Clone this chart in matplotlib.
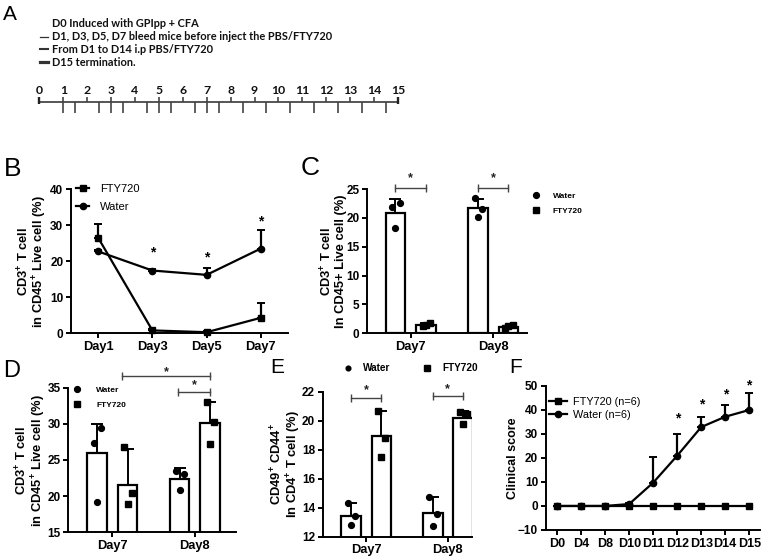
import numpy as np
import matplotlib.pyplot as plt
from matplotlib.lines import Line2D

plt.rcParams['font.family'] = 'Liberation Sans'
plt.rcParams['font.weight'] = 'bold'
plt.rcParams['axes.labelweight'] = 'bold'
plt.rcParams['mathtext.fontset'] = 'custom'
plt.rcParams['mathtext.rm'] = 'Liberation Sans:bold'
plt.rcParams['mathtext.default'] = 'rm'
plt.rcParams['axes.linewidth'] = 1.4
plt.rcParams['xtick.major.width'] = 1.4
plt.rcParams['ytick.major.width'] = 1.4
plt.rcParams['xtick.major.size'] = 3.5
plt.rcParams['ytick.major.size'] = 3.5
plt.rcParams['xtick.labelsize'] = 9.3
plt.rcParams['ytick.labelsize'] = 8.5

#------------------------------- DATA -----------------------------
# A: protocol timeline
protocol_lines = ["D0 Induced with GPIpp + CFA",
                  "D1, D3, D5, D7 bleed mice before inject the PBS/FTY720",
                  "From D1 to D14 i.p PBS/FTY720",
                  "D15 termination."]
timeline_days = [0, 1, 2, 3, 4, 5, 6, 7, 8, 9, 10, 11, 12, 13, 14, 15]
event_ticks = [1, 1.5, 2.5, 3, 3.5, 4.5, 5, 5.5, 6.5, 7, 7.5, 8.5, 9.5,
               10.5, 11.5, 12.5, 13.5, 14.5]

# B: CD3+ T cells over time
b_days = ["Day1", "Day3", "Day5", "Day7"]
b_fty = [26.5, 0.8, 0.3, 4.3]
b_fty_err = [3.7, 0.3, 0.3, 4.2]
b_water = [22.7, 17.4, 16.2, 23.5]
b_water_err = [0.3, 0.3, 1.8, 5.0]
b_star_idx = [1, 2, 3]
b_star_y = [22.3, 21.1, 30.9]

# C: CD3+ T cells (bars)
cd_days = ["Day7", "Day8"]
c_water = [20.9, 21.7]
c_water_err = [2.3, 1.6]
c_water_pts = [[21.9, 22.6, 18.2], [23.4, 21.5, 20.2]]
c_fty = [1.5, 1.05]
c_fty_err = [0.3, 0.25]
c_fty_pts = [[1.27, 1.85, 1.44], [0.87, 1.39, 1.33]]

# D: CD3+ T cells (bars, zoomed axis)
d_water = [26.0, 22.4]
d_water_err = [4.0, 1.45]
d_water_pts = [[27.4, 29.4, 19.2], [23.5, 23.0, 20.85]]
d_fty = [21.6, 30.1]
d_fty_err = [4.9, 2.9]
d_fty_pts = [[26.8, 20.4, 18.9], [33.0, 30.3, 27.2]]

# E: CD49+ CD44+ in CD4+ T cells
e_water = [13.45, 13.65]
e_water_err = [0.85, 1.1]
e_water_pts = [[14.3, 13.4, 12.8], [14.75, 13.55, 12.75]]
e_fty = [18.97, 20.2]
e_fty_err = [1.7, 0.45]
e_fty_pts = [[20.7, 18.8, 17.5], [20.6, 20.45, 19.8]]

# F: clinical score
f_days = ["D0", "D4", "D8", "D10", "D11", "D12", "D13", "D14", "D15"]
f_fty = [0, 0, 0, 0, 0, 0, 0, 0, 0]
f_water = [0, 0, 0, 0.8, 9.7, 20.9, 32.8, 37.1, 39.9]
f_water_err = [0, 0, 0, 0.6, 10.8, 9.1, 4.3, 4.9, 6.9]
f_star_idx = [5, 6, 7, 8]
f_star_y = [36.4, 42.4, 46.4, 50.3]

W, H = 764, 556
fig = plt.figure(figsize=(W / 100, H / 100), dpi=100)


def px_axes(l, t, r, b):
    return fig.add_axes([l / W, 1 - b / H, (r - l) / W, (b - t) / H])


def style_axes(ax):
    ax.spines['top'].set_visible(False)
    ax.spines['right'].set_visible(False)
    ax.tick_params(direction='out', pad=2)


def legend_at(ax, handles, labels, x, y, size, **kw):
    return ax.legend(handles, labels, loc='upper left',
                     bbox_to_anchor=(x / W, 1 - y / H),
                     bbox_transform=fig.transFigure, frameon=False,
                     borderaxespad=0, borderpad=0, fontsize=size, **kw)


def bracket(ax, x1, x2, y, star_y):
    ax.plot([x1, x2], [y, y], color='#444444', lw=1.0, marker='|', ms=6,
            mew=1.0, clip_on=False)
    ax.text((x1 + x2) / 2, star_y, '*', ha='center', va='center',
            fontsize=9, color='#222222')


def bar_panel(ax, water, water_err, water_pts, fty, fty_err, fty_pts, off=0.185, width=0.24):
    x = np.arange(len(cd_days))
    jitter = [-0.04, 0.05, 0.0]
    for xs, means, errs, pts, mk in [(x - off, water, water_err, water_pts, 'o'),
                                     (x + off, fty, fty_err, fty_pts, 's')]:
        ax.bar(xs, means, width=width, color='white', edgecolor='black',
               linewidth=1.6, zorder=2)
        ax.errorbar(xs, means, yerr=[np.zeros(len(errs)), errs], fmt='none',
                    ecolor='black', elinewidth=1.4, capsize=4, capthick=1.4,
                    zorder=3, clip_on=False)
        for xi, p in zip(xs, pts):
            ax.plot(xi + np.array(jitter), p, mk, color='black', ms=4.2,
                    zorder=4, clip_on=False)
    ax.set_xticks(x)
    ax.set_xticklabels(cd_days)
    style_axes(ax)


YLAB = dict(fontsize=9.3, linespacing=1.0)

#------------------------------- PANEL A -----------------------------
fig.text(3 / W, 1 - 5 / H, "A", fontsize=15, weight='normal', va='top')
line_y = [23.3, 36.7, 49.3, 62.3]
dash_w = [None, 0.9, 1.5, 2.3]
for txt, yy, lw in zip(protocol_lines, line_y, dash_w):
    fig.text(51.7 / W, 1 - yy / H, txt, family='Lato', fontsize=7.9,
             weight='bold', va='center', color='#111111')
    if lw is not None:
        fig.add_artist(Line2D([40 / W, 48.3 / W], [1 - yy / H, 1 - yy / H],
                              color='#333333', lw=lw))

axa = px_axes(39.3, 80, 398, 118)
axa.set_xlim(0, 15)
axa.set_ylim(-16.3, 21.7)
axa.axis('off')
axa.plot([0, 15], [0, 0], color='#555555', lw=1.4, clip_on=False)
axa.vlines(timeline_days, 0, 5, color='#444444', lw=1.2, clip_on=False)
axa.vlines([0, 15], -2, 5, color='#222222', lw=1.7, clip_on=False)
axa.vlines(event_ticks, -11.3, 0, color='#444444', lw=1.2, clip_on=False)
for d in timeline_days:
    axa.text(d, 11.7, str(d), ha='center', va='center', family='Lato',
             fontsize=8.8, weight='bold', color='#111111')

#------------------------------- PANEL B -----------------------------
fig.text(4 / W, 1 - 157 / H, "B", fontsize=19, weight='normal', va='top')
axb = px_axes(71, 189, 288, 333.3)
xb = np.arange(len(b_days))
axb.errorbar(xb, b_fty, yerr=[np.zeros(4), b_fty_err], color='black',
             marker='s', ms=4.5, lw=1.6, capsize=3, capthick=1.4, clip_on=False)
axb.errorbar(xb, b_water, yerr=[np.zeros(4), b_water_err], color='black',
             marker='o', ms=4.5, lw=1.6, capsize=3, capthick=1.4, clip_on=False)
for i, sy in zip(b_star_idx, b_star_y):
    axb.text(xb[i], sy, '*', ha='center', va='center', fontsize=10)
axb.set_xlim(-0.5, 3.5)
axb.set_ylim(0, 40)
axb.set_yticks([0, 10, 20, 30, 40])
axb.set_xticks(xb)
axb.set_xticklabels(b_days)
style_axes(axb)
axb.set_ylabel("CD3$^{+}$ T cell\nin CD45$^{+}$ Live cell (%)", labelpad=0.5, **YLAB)
hb = [Line2D([], [], color='black', marker='s', ms=4.5, lw=1.6),
      Line2D([], [], color='black', marker='o', ms=4.5, lw=1.6)]
legend_at(axb, hb, ["FTY720", "Water"], 76, 184, 8, handlelength=1.2,
          handletextpad=1.0, labelspacing=0.75,
          prop={'weight': 'normal', 'size': 8})

#------------------------------- PANEL C -----------------------------
fig.text(301 / W, 1 - 156 / H, "C", fontsize=19, weight='normal', va='top')
axc = px_axes(367, 189, 527, 333.3)
bar_panel(axc, c_water, c_water_err, c_water_pts, c_fty, c_fty_err, c_fty_pts)
axc.set_xlim(-0.53, 1.41)
axc.set_ylim(0, 25)
axc.set_yticks([0, 5, 10, 15, 20, 25])
axc.set_ylabel("CD3$^{+}$ T cell\nIn CD45+ Live cell (%)", labelpad=-0.5, **YLAB)
for g in range(2):
    bracket(axc, g - 0.185, g + 0.185, 25.1, 26.8)
hc = [Line2D([], [], ls='none', color='black', marker='o', ms=4.2),
      Line2D([], [], ls='none', color='black', marker='s', ms=4.2)]
legend_at(axc, hc, ["Water", "FTY720"], 532, 192, 6, handlelength=1.0,
          handletextpad=1.5, labelspacing=0.9)

#------------------------------- PANEL D -----------------------------
fig.text(3 / W, 1 - 360 / H, "D", fontsize=17, weight='normal', va='top')
axd = px_axes(68.3, 387.7, 236, 532.3)
bar_panel(axd, d_water, d_water_err, d_water_pts, d_fty, d_fty_err, d_fty_pts)
axd.set_xlim(-0.534, 1.5)
axd.set_ylim(15, 35)
axd.set_yticks([15, 20, 25, 30, 35])
axd.set_ylabel("CD3$^{+}$ T cell\nin CD45$^{+}$ Live cell (%)", labelpad=-0.5, **YLAB)
bracket(axd, 0.114, 1.19, 36.6, 37.1)
bracket(axd, 0.80, 1.19, 34.45, 35.3)
legend_at(axd, hc, ["Water", "FTY720"], 73, 386, 6, handlelength=1.0,
          handletextpad=1.8, labelspacing=0.9)

#------------------------------- PANEL E -----------------------------
fig.text(270 / W, 1 - 358 / H, "E", fontsize=15, weight='normal', va='top')
axe = px_axes(322.7, 391.7, 472.3, 536.7)
bar_panel(axe, e_water, e_water_err, e_water_pts, e_fty, e_fty_err, e_fty_pts)
axe.set_xlim(-0.535, 1.30)
axe.set_ylim(12, 22)
axe.set_yticks([12, 14, 16, 18, 20, 22])
axe.set_ylabel("CD49$^{+}$ CD44$^{+}$\nIn CD4$^{+}$ T cell (%)", labelpad=-0.5, **YLAB)
bracket(axe, -0.185, 0.185, 21.55, 22.1)
bracket(axe, 0.815, 1.185, 21.7, 22.2)
he = [Line2D([], [], ls='none', color='black', marker='o', ms=3.4),
      Line2D([], [], ls='none', color='black', marker='s', ms=4.0)]
legend_at(axe, he, ["Water", "FTY720"], 343, 363, 7.2, ncol=2,
          handlelength=1.0, handletextpad=1.0, columnspacing=3.2)

#------------------------------- PANEL F -----------------------------
fig.text(509 / W, 1 - 358 / H, "F", fontsize=15, weight='normal', va='top')
axf = px_axes(545.7, 385.7, 760, 530)
xf = np.arange(len(f_days))
axf.plot(xf, f_fty, color='black', marker='s', ms=4.5, lw=1.6, clip_on=False)
axf.errorbar(xf, f_water, yerr=[np.zeros(len(xf)), f_water_err], color='black',
             marker='o', ms=4.5, lw=1.6, capsize=3, capthick=1.4, clip_on=False)
for i, sy in zip(f_star_idx, f_star_y):
    axf.text(xf[i], sy, '*', ha='center', va='center', fontsize=10)
axf.set_xlim(-0.48, 8.45)
axf.set_ylim(-10, 50)
axf.set_yticks([-10, 0, 10, 20, 30, 40, 50])
axf.set_xticks(xf)
axf.set_xticklabels(f_days, fontsize=9)
style_axes(axf)
axf.set_ylabel("Clinical score", fontsize=9, labelpad=-1)
legend_at(axf, hb, ["FTY720 (n=6)", "Water (n=6)"], 549, 397, 7.8,
          handlelength=1.7, handletextpad=0.5, labelspacing=0.25,
          prop={'weight': 'normal', 'size': 7.8})

fig.savefig("out.png", dpi=100)
